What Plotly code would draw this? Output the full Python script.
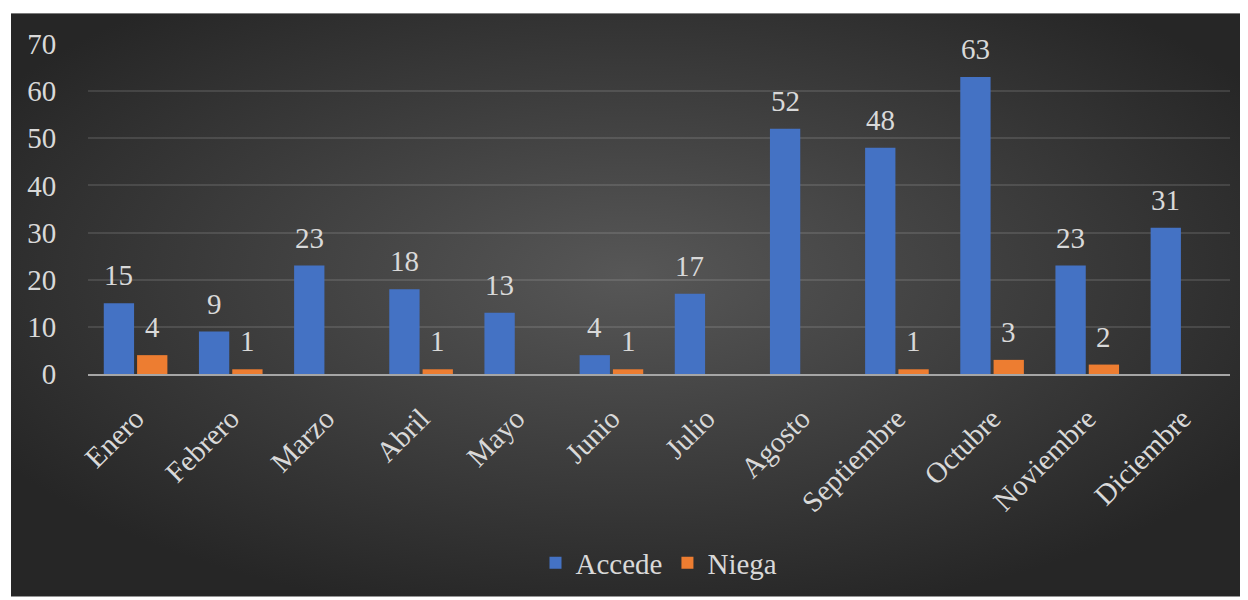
import base64
import plotly.graph_objects as go

months = ["Enero", "Febrero", "Marzo", "Abril", "Mayo", "Junio", "Julio",
          "Agosto", "Septiembre", "Octubre", "Noviembre", "Diciembre"]
accede = [15, 9, 23, 18, 13, 4, 17, 52, 48, 63, 23, 31]
niega = [4, 1, None, 1, None, 1, None, None, 1, 3, 2, None]
y_ticks = [0, 10, 20, 30, 40, 50, 60, 70]

FONT = "Liberation Serif"
TXT = "#d9d9d9"
FS = 29

# page body has an 8px margin: figure is drawn from (8, 8)
W, H = 1240, 592
L, R, T, B = 80, 18, 36, 224
pw, ph = W - L - R, H - T - B

BARGAP, GROUPGAP = 0.30, 0.09

svg = ('<svg xmlns="http://www.w3.org/2000/svg" width="1237" height="587" preserveAspectRatio="none">'
       '<defs><radialGradient id="g" cx="0.5" cy="0.45" r="0.6">'
       '<stop offset="0" stop-color="#575757"/><stop offset="1" stop-color="#262626"/>'
       '</radialGradient></defs><rect width="1237" height="587" fill="url(#g)"/></svg>')
bg_src = "data:image/svg+xml;base64," + base64.b64encode(svg.encode()).decode()

fig = go.Figure()
fig.add_trace(go.Bar(x=months, y=accede, name="Accede",
                     marker=dict(color="#4472c4", line=dict(width=0))))
fig.add_trace(go.Bar(x=months, y=niega, name="Niega",
                     marker=dict(color="#ed7d31", line=dict(width=0))))

# data labels as annotations, offset to each bar's slot
cat_w = pw / len(months)
slot = cat_w * (1 - BARGAP) / 2
annotations = []
for vals, sign in ((accede, -1), (niega, 1)):
    for m, v in zip(months, vals):
        if v is None:
            continue
        annotations.append(dict(x=m, y=v, xref="x", yref="y", text=str(v),
                                showarrow=False, xanchor="center", yanchor="bottom",
                                xshift=sign * slot / 2, yshift=10,
                                font=dict(family=FONT, size=FS, color=TXT)))

fig.update_layout(
    width=W, height=H,
    margin=dict(l=L, r=R, t=T, b=B),
    paper_bgcolor="white",
    plot_bgcolor="rgba(0,0,0,0)",
    font=dict(family="DejaVu Serif", size=FS, color=TXT),
    barmode="group", bargap=BARGAP, bargroupgap=GROUPGAP,
    showlegend=True,
    legend=dict(orientation="h", x=0.5, xanchor="center", y=(368 - 558) / ph,
                yanchor="middle", font=dict(family=FONT, size=FS, color=TXT),
                bgcolor="rgba(0,0,0,0)", traceorder="normal"),
    annotations=annotations,
    images=[dict(source=bg_src, xref="paper", yref="paper",
                 x=(3 - L) / pw, y=(T + ph - 5) / ph,
                 sizex=(W - 3) / pw, sizey=(H - 5) / ph,
                 xanchor="left", yanchor="top", sizing="stretch", layer="below")],
    xaxis=dict(tickangle=-45, showline=True, linecolor="#a6a6a6", linewidth=2,
               showgrid=False, ticks="outside", ticklen=14, tickcolor="rgba(0,0,0,0)",
               tickfont=dict(family=FONT, size=FS, color=TXT)),
    yaxis=dict(range=[0, 70], tickvals=y_ticks, showgrid=True,
               gridcolor="rgba(217,217,217,0.14)", gridwidth=1.5, zeroline=False,
               showline=False, ticks="outside", ticklen=25, tickcolor="rgba(0,0,0,0)",
               tickfont=dict(family=FONT, size=FS, color=TXT)),
)

fig.write_html("out.html")
